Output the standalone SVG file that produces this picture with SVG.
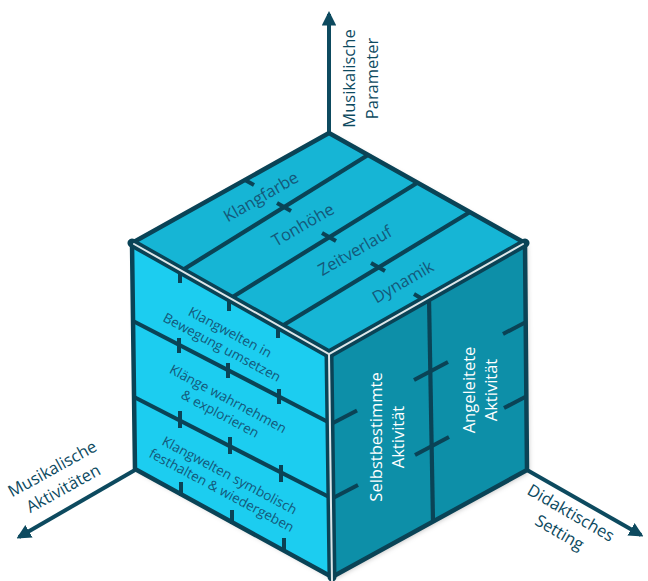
<svg xmlns="http://www.w3.org/2000/svg" width="648" height="581" viewBox="0 0 648 581">
  <style>
    .edge { fill: none; stroke: #0a4356; stroke-width: 4.5; stroke-linejoin: round; stroke-linecap: round; }
    .seam { fill: none; stroke: #0a4356; stroke-width: 9; stroke-linecap: round; }
    .seam-hi { fill: none; stroke: #dde7ea; stroke-width: 2; stroke-linecap: round; }
    .div { fill: none; stroke: #0a4356; stroke-width: 4.2; stroke-linecap: butt; }
    .tick { fill: none; stroke: #0a4356; stroke-width: 4; stroke-linecap: butt; }
    .axis { fill: none; stroke: #0d4a5f; stroke-width: 4; }
    .lbl { font-family: "Open Sans", "Noto Sans", "Liberation Sans", sans-serif; fill: #14597a; text-anchor: middle; }
    .top-lbl { font-size: 16.5px; }
    .left-lbl { font-size: 13.5px; }
    .right-lbl { font-family: "Open Sans", "Noto Sans", "Liberation Sans", sans-serif; font-size: 16.5px; fill: #ffffff; text-anchor: middle; }
    .axis-lbl { font-family: "Open Sans", "Noto Sans", "Liberation Sans", sans-serif; font-size: 16.5px; fill: #0d4a5f; text-anchor: middle; }
  </style>
  <defs>
    <marker id="arrow" viewBox="0 0 10 10" refX="8" refY="5" markerWidth="3.6" markerHeight="3.6" orient="auto" markerUnits="strokeWidth">
      <path d="M0,0 L10,5 L0,10 z" fill="#0d4a5f"/>
    </marker>
    <filter id="shadow" x="-10%" y="-10%" width="120%" height="120%">
      <feDropShadow dx="2" dy="2" stdDeviation="2.5" flood-color="#000000" flood-opacity="0.25"/>
    </filter>
  </defs>

  <!-- axes -->
  <g id="axes">
    <line class="axis" x1="329" y1="135" x2="329" y2="14" marker-end="url(#arrow)"/>
    <line class="axis" x1="135" y1="470" x2="19" y2="537" marker-end="url(#arrow)"/>
    <line class="axis" x1="527" y1="470" x2="641" y2="535" marker-end="url(#arrow)"/>
  </g>

  <!-- axis labels -->
  <g id="label-parameter">
    <text class="axis-lbl" transform="translate(361,78.5) rotate(-90)"><tspan x="0" y="-6">Musikalische</tspan><tspan x="0" y="16.5">Parameter</tspan></text>
  </g>
  <g id="label-aktivitaeten">
    <text class="axis-lbl" transform="translate(58,479) rotate(-29)"><tspan x="0" y="-6">Musikalische</tspan><tspan x="0" y="16.5">Aktivitäten</tspan></text>
  </g>
  <g id="label-setting">
    <text class="axis-lbl" transform="translate(565,523) rotate(30)"><tspan x="0" y="-6">Didaktisches</tspan><tspan x="0" y="16.5">Setting</tspan></text>
  </g>

  <!-- cube body -->
  <g id="cube" filter="url(#shadow)">
    <polygon points="329,133 525,243 329,354 132,243" fill="#15b5d5"/>
    <polygon points="132,243 329,354 332,577 135,469" fill="#1fcdf0"/>
    <polygon points="329,354 525,243 527,470 332,577" fill="#0b8fa8"/>
  </g>

  <!-- top face: musical parameters -->
  <g id="top-face">
    <line class="div" x1="181" y1="271" x2="368" y2="155"/>
    <line class="div" x1="231" y1="298" x2="417" y2="183"/>
    <line class="div" x1="282" y1="326" x2="470" y2="212"/>
    <line class="tick" x1="245" y1="180" x2="254" y2="185"/>
    <line class="tick" x1="277" y1="203" x2="291" y2="211"/>
    <line class="tick" x1="322" y1="233" x2="336" y2="241"/>
    <line class="tick" x1="371" y1="263" x2="385" y2="271"/>
    <line class="tick" x1="424" y1="300" x2="414" y2="294"/>
    <text class="lbl top-lbl" transform="translate(261,197) rotate(-30)" y="5.5">Klangfarbe</text>
    <text class="lbl top-lbl" transform="translate(303,225) rotate(-30)" y="5.5">Tonhöhe</text>
    <text class="lbl top-lbl" transform="translate(355,251) rotate(-30)" y="5.5">Zeitverlauf</text>
    <text class="lbl top-lbl" transform="translate(403,282) rotate(-30)" y="5.5">Dynamik</text>
  </g>

  <!-- left face: musical activities -->
  <g id="left-face">
    <line class="div" x1="133" y1="321" x2="330" y2="423"/>
    <line class="div" x1="134" y1="397" x2="331" y2="498"/>
    <line class="tick" x1="180" y1="268" x2="180" y2="283"/>
    <line class="tick" x1="229" y1="296" x2="229" y2="311"/>
    <line class="tick" x1="278" y1="323" x2="278" y2="338"/>
    <line class="tick" x1="179" y1="338" x2="179" y2="353"/>
    <line class="tick" x1="228" y1="363" x2="228" y2="378"/>
    <line class="tick" x1="279" y1="389" x2="279" y2="404"/>
    <line class="tick" x1="180" y1="411" x2="180" y2="428"/>
    <line class="tick" x1="230" y1="437" x2="230" y2="454"/>
    <line class="tick" x1="281" y1="465" x2="281" y2="482"/>
    <line class="tick" x1="181" y1="482" x2="181" y2="496"/>
    <line class="tick" x1="232" y1="510" x2="232" y2="524"/>
    <line class="tick" x1="284" y1="538" x2="284" y2="552"/>
    <text class="lbl left-lbl" transform="translate(226,340) rotate(28)"><tspan x="0" y="-4">Klangwelten in</tspan><tspan x="0" y="13">Bewegung umsetzen</tspan></text>
    <text class="lbl left-lbl" transform="translate(224,406.5) rotate(28)"><tspan x="0" y="-4">Klänge wahrnehmen</tspan><tspan x="0" y="13">&amp; explorieren</tspan></text>
    <text class="lbl left-lbl" transform="translate(225.5,483) rotate(28)"><tspan x="0" y="-4">Klangwelten symbolisch</tspan><tspan x="0" y="13">festhalten &amp; wiedergeben</tspan></text>
  </g>

  <!-- right face: didactic setting -->
  <g id="right-face">
    <line class="div" x1="429" y1="298" x2="433" y2="522"/>
    <line class="tick" x1="333" y1="423" x2="357" y2="410.5"/>
    <line class="tick" x1="334" y1="497.5" x2="358" y2="485"/>
    <line class="tick" x1="414" y1="380" x2="448" y2="362"/>
    <line class="tick" x1="415" y1="455" x2="449" y2="437"/>
    <line class="tick" x1="503" y1="334" x2="526" y2="322"/>
    <line class="tick" x1="504" y1="408" x2="527" y2="396"/>
    <text class="right-lbl" transform="translate(387,437) rotate(-90)"><tspan x="0" y="-5">Selbstbestimmte</tspan><tspan x="0" y="17">Aktivität</tspan></text>
    <text class="right-lbl" transform="translate(480,390) rotate(-90)"><tspan x="0" y="-5">Angeleitete</tspan><tspan x="0" y="17">Aktivität</tspan></text>
  </g>

  <!-- cube outline and bevelled front seams -->
  <g id="cube-edges">
    <polygon class="edge" points="329,133 525,243 527,470 332,577 135,469 132,243"/>
    <polyline class="seam" points="132,243 329,354 525,243"/>
    <line class="seam" x1="329" y1="354" x2="332" y2="577"/>
    <polyline class="seam-hi" points="134,244 329,354 523,244"/>
    <line class="seam-hi" x1="329" y1="354" x2="332" y2="581"/>
  </g>
</svg>
